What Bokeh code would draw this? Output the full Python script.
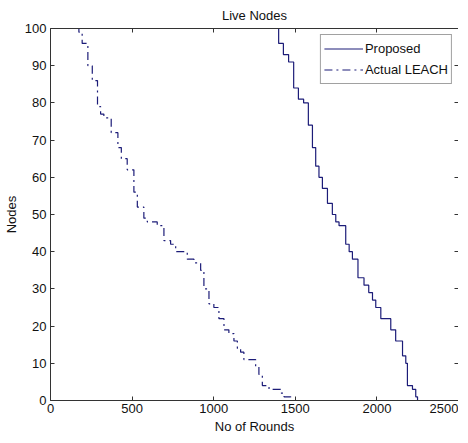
from bokeh.plotting import figure
from bokeh.models import LinearAxis, Range1d, FixedTicker, Legend, LegendItem
from bokeh.embed import file_html
from bokeh.resources import INLINE

# ---- data ----
proposed_rounds = [1381, 1398, 1427, 1459, 1490, 1519, 1551, 1580, 1605, 1625, 1645, 1666, 1697,
                   1727, 1748, 1768, 1809, 1830, 1850, 1884, 1921, 1950, 1973, 1993, 2024, 2065,
                   2085, 2115, 2135, 2157, 2177, 2187, 2218, 2238, 2249]
proposed_nodes = [100, 96, 93, 91, 84, 81, 80, 74, 68, 63, 60, 57, 53,
                  50, 48, 47, 42, 40, 38, 33, 31, 29, 27, 25, 22, 22,
                  19, 16, 16, 12, 10, 4, 3, 1, 0]

leach_rounds = [153, 174, 194, 229, 256, 288, 307, 327, 372, 413, 434, 470, 511, 532, 572, 593,
                654, 695, 736, 767, 838, 879, 920, 940, 971, 1001, 1032, 1063, 1093, 1124, 1145,
                1165, 1185, 1257, 1277, 1298, 1339, 1410, 1431, 1472]
leach_nodes = [100, 99, 96, 90, 86, 79, 77, 76, 72, 68, 65, 62, 56, 52, 49, 48,
               47, 43, 42, 40, 38, 37, 35, 30, 26, 25, 22, 19, 18, 16, 14,
               13, 11, 9, 7, 4, 3, 2, 1, 0]

x_ticks = [0, 500, 1000, 1500, 2000, 2500]
y_ticks = [0, 10, 20, 30, 40, 50, 60, 70, 80, 90, 100]

FONT = "Liberation Sans"
FS = "13px"
LINE_COLOR = "#1c1c78"
AXIS_COLOR = "#333333"
TEXT_COLOR = "#111111"

p = figure(frame_width=408, frame_height=372, output_backend="svg", toolbar_location=None,
           x_range=Range1d(0, 2500), y_range=Range1d(0, 100),
           min_border_left=42, min_border_right=0, min_border_top=20, min_border_bottom=30,
           background_fill_color="white", border_fill_color="white")
p.title.text = "Live Nodes"
p.title.align = "center"
p.title.text_font = FONT
p.title.text_font_size = "13px"
p.title.text_font_style = "normal"
p.title.text_color = TEXT_COLOR
p.title.standoff = 11
p.title.offset = 0

p.grid.visible = False
p.outline_line_color = None

def style(ax, labels=True):
    ax.axis_line_color = AXIS_COLOR
    ax.axis_line_width = 1
    ax.major_tick_in = 4
    ax.major_tick_out = 0
    ax.major_tick_line_color = AXIS_COLOR
    ax.minor_tick_line_color = None
    ax.major_label_text_font = FONT
    ax.major_label_text_color = TEXT_COLOR
    ax.major_label_text_font_size = FS
    if labels:
        ax.major_label_standoff = 3
    else:
        ax.major_label_standoff = 0
        ax.major_label_overrides = {t: "" for t in ax.ticker.ticks}

p.xaxis.ticker = FixedTicker(ticks=x_ticks)
p.yaxis.ticker = FixedTicker(ticks=y_ticks)
style(p.xaxis[0])
style(p.yaxis[0])
p.xaxis.axis_label = "No of Rounds"
p.yaxis.axis_label = "Nodes"
for ax in (p.xaxis[0], p.yaxis[0]):
    ax.axis_label_text_font = FONT
    ax.axis_label_text_font_size = FS
    ax.axis_label_text_font_style = "normal"
    ax.axis_label_text_color = TEXT_COLOR
p.xaxis[0].axis_label_standoff = 3
p.yaxis[0].axis_label_standoff = 3
p.yaxis[0].major_label_standoff = 4

top = LinearAxis(ticker=FixedTicker(ticks=x_ticks))
style(top, labels=False)
p.add_layout(top, "above")
right = LinearAxis(ticker=FixedTicker(ticks=y_ticks))
style(right, labels=False)
p.add_layout(right, "right")

r1 = p.step(proposed_rounds, proposed_nodes, mode="after", line_color=LINE_COLOR, line_width=1.2)
r2 = p.step(leach_rounds, leach_nodes, mode="after", line_color=LINE_COLOR, line_width=1.2,
            line_dash="8 4 2 4")

legend = Legend(items=[LegendItem(label="Proposed", renderers=[r1]),
                       LegendItem(label="Actual LEACH", renderers=[r2])],
                location="top_right")
legend.label_text_font = FONT
legend.label_text_font_size = FS
legend.label_text_color = TEXT_COLOR
legend.glyph_width = 39
legend.glyph_height = 21
legend.label_height = 21
legend.label_standoff = 2
legend.spacing = 0
legend.padding = 3
legend.margin = 6
legend.border_line_color = "#444444"
legend.border_line_width = 1
legend.background_fill_color = "white"
legend.background_fill_alpha = 1
p.add_layout(legend)

open("out.html", "w").write(file_html(p, INLINE))
